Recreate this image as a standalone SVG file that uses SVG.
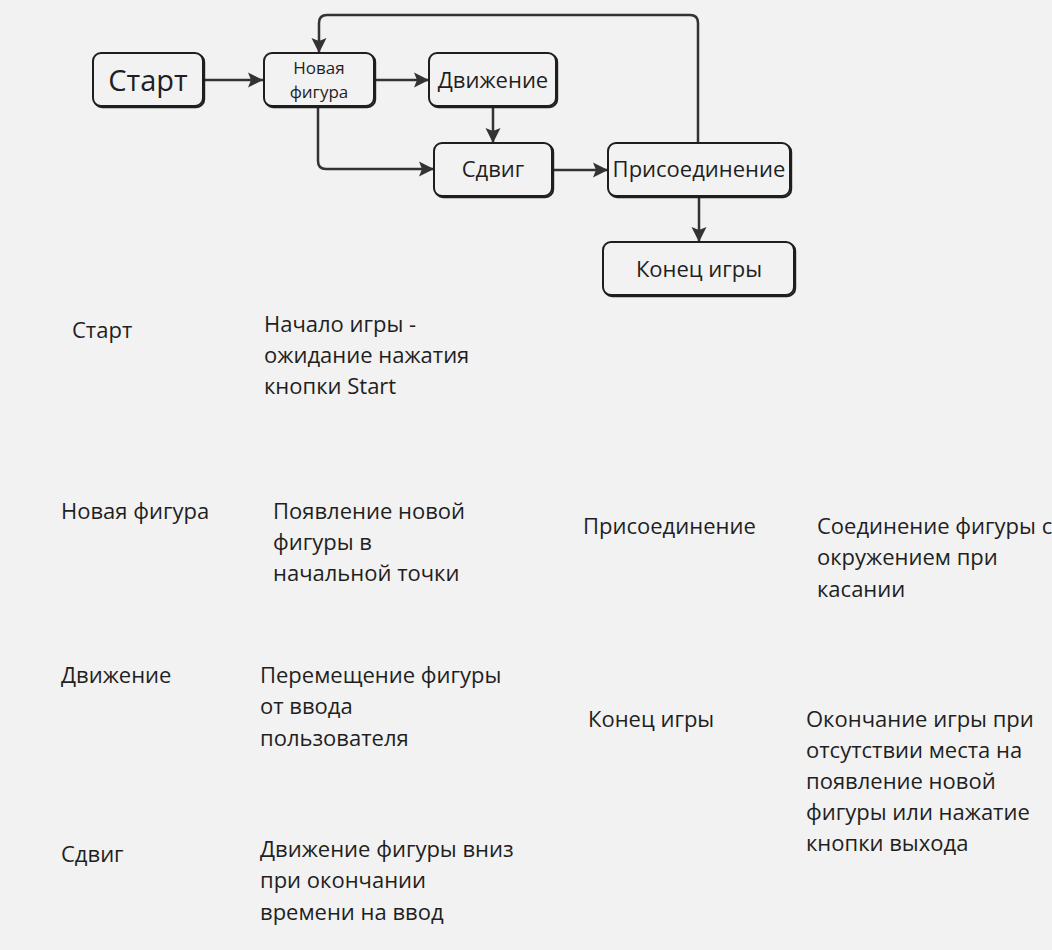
<svg xmlns="http://www.w3.org/2000/svg" width="1052" height="950" viewBox="0 0 1052 950">
<style>
.bg{fill:#f2f2f2}
.sh{fill:none;stroke:#1e1e1e;stroke-width:2}
.bx{fill:#f2f2f2;stroke:#1e1e1e;stroke-width:2}
.c{fill:none;stroke:#333;stroke-width:2.5}
text{font-family:"Open Sans","Noto Sans","DejaVu Sans",sans-serif;fill:#1f1f1f}
.n{font-size:22px;text-anchor:middle}
.t{font-size:22px}
</style>
<defs>
<marker id="ah" markerUnits="userSpaceOnUse" markerWidth="18" markerHeight="18" refX="15" refY="9" orient="auto">
<path d="M0,1.5 L15,9 L0,16.5 L3,9 z" fill="#333"/>
</marker>
</defs>
<rect class="bg" x="0" y="0" width="1052" height="950"/>
<g id="connectors">
<path class="c" d="M203,80 H263" marker-end="url(#ah)"/>
<path class="c" d="M374,80 H429" marker-end="url(#ah)"/>
<path class="c" d="M493,107 V143" marker-end="url(#ah)"/>
<path class="c" d="M318,107 V161 Q318,169 326,169 H434" marker-end="url(#ah)"/>
<path class="c" d="M553,170 H608" marker-end="url(#ah)"/>
<path class="c" d="M698,143 V23 Q698,15 690,15 H327 Q319,15 319,23 V53" marker-end="url(#ah)"/>
<path class="c" d="M699,197 V242" marker-end="url(#ah)"/>
</g>
<g id="node-start">
<rect class="sh" x="94.2" y="54.2" width="110" height="53" rx="8"/>
<rect class="bx" x="93" y="53" width="110" height="53" rx="8"/>
<text class="n" x="148" y="91" style="font-size:29px">Старт</text>
</g>
<g id="node-new">
<rect class="sh" x="265.2" y="54.2" width="110" height="53" rx="8"/>
<rect class="bx" x="264" y="53" width="110" height="53" rx="8"/>
<text class="n" x="319" y="74" style="font-size:17px">Новая</text>
<text class="n" x="319" y="98" style="font-size:17px">фигура</text>
</g>
<g id="node-move">
<rect class="sh" x="430.2" y="54.2" width="127" height="53" rx="8"/>
<rect class="bx" x="429" y="53" width="127" height="53" rx="8"/>
<text class="n" x="493" y="88">Движение</text>
</g>
<g id="node-shift">
<rect class="sh" x="435.2" y="144.2" width="118" height="53" rx="8"/>
<rect class="bx" x="434" y="143" width="118" height="53" rx="8"/>
<text class="n" x="493" y="177">Сдвиг</text>
</g>
<g id="node-join">
<rect class="sh" x="609.2" y="144.2" width="182" height="53" rx="8"/>
<rect class="bx" x="608" y="143" width="182" height="53" rx="8"/>
<text class="n" x="699" y="177">Присоединение</text>
</g>
<g id="node-end">
<rect class="sh" x="604.2" y="243.2" width="191" height="53" rx="8"/>
<rect class="bx" x="603" y="242" width="191" height="53" rx="8"/>
<text class="n" x="699" y="277">Конец игры</text>
</g>
<g id="legend">
<text class="t" x="72" y="338">Старт</text>
<text class="t" x="264" y="332">Начало игры -</text>
<text class="t" x="264" y="363">ожидание нажатия</text>
<text class="t" x="264" y="394">кнопки Start</text>
<text class="t" x="61" y="519">Новая фигура</text>
<text class="t" x="273" y="519">Появление новой</text>
<text class="t" x="273" y="550">фигуры в</text>
<text class="t" x="273" y="581">начальной точки</text>
<text class="t" x="583" y="534">Присоединение</text>
<text class="t" x="817" y="534">Соединение фигуры с</text>
<text class="t" x="817" y="565">окружением при</text>
<text class="t" x="817" y="597">касании</text>
<text class="t" x="61" y="683">Движение</text>
<text class="t" x="260" y="683">Перемещение фигуры</text>
<text class="t" x="260" y="714">от ввода</text>
<text class="t" x="260" y="746">пользователя</text>
<text class="t" x="588" y="727">Конец игры</text>
<text class="t" x="806" y="727">Окончание игры при</text>
<text class="t" x="806" y="758">отсутствии места на</text>
<text class="t" x="806" y="789">появление новой</text>
<text class="t" x="806" y="820">фигуры или нажатие</text>
<text class="t" x="806" y="851">кнопки выхода</text>
<text class="t" x="61" y="862">Сдвиг</text>
<text class="t" x="260" y="857">Движение фигуры вниз</text>
<text class="t" x="260" y="888">при окончании</text>
<text class="t" x="260" y="920">времени на ввод</text>
</g>
</svg>
